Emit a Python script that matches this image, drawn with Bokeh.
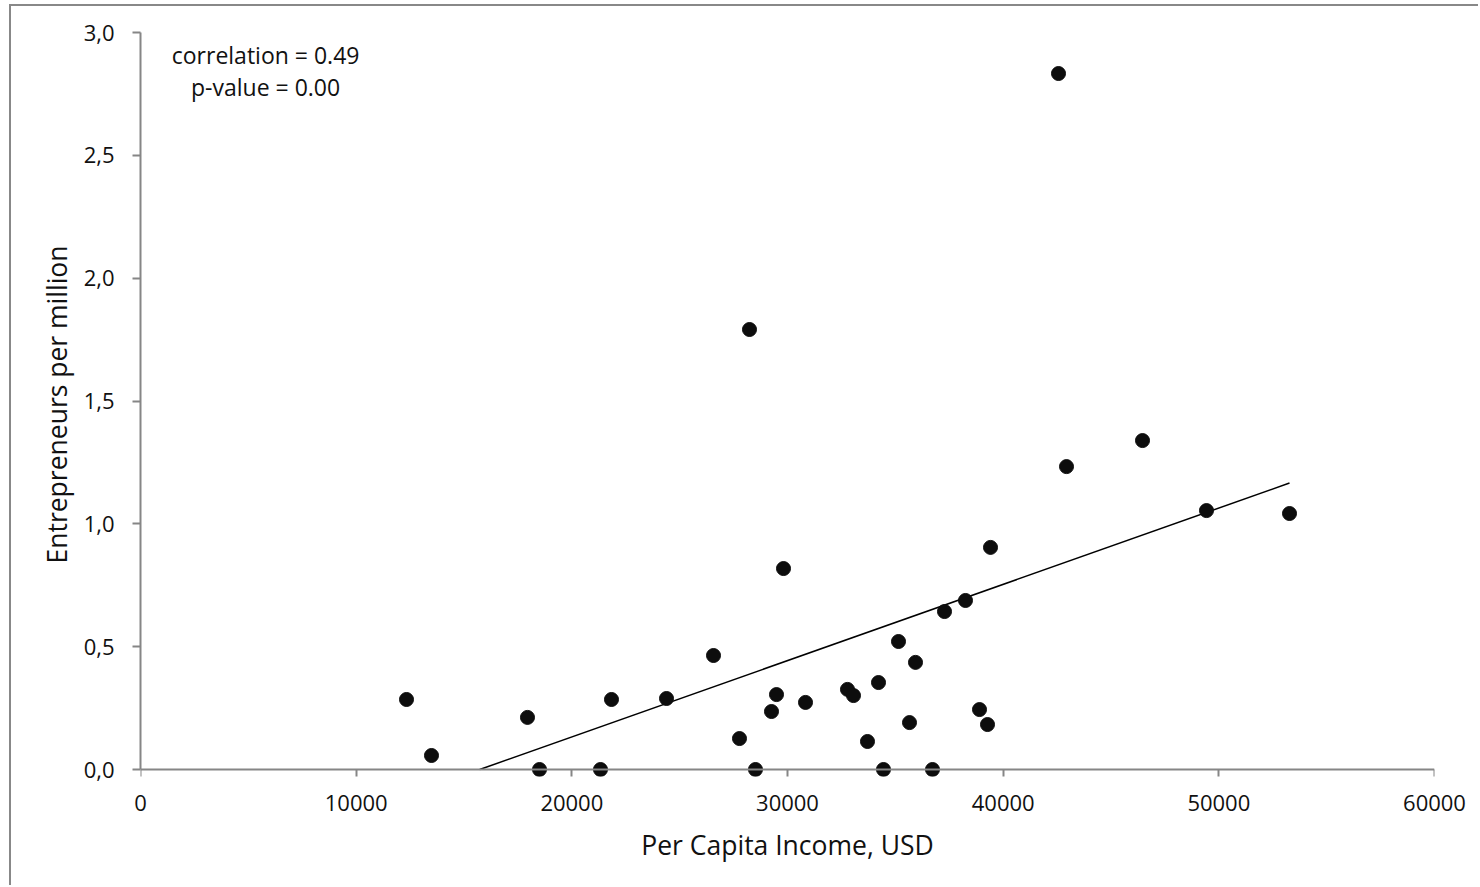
import numpy as np
from bokeh.plotting import figure
from bokeh.models import FixedTicker, LinearAxis, ColumnDataSource
from bokeh.core.properties import value
from bokeh.embed import file_html
from bokeh.resources import INLINE

# Data
income = [12334, 13493, 17944, 18501, 21329, 21839, 24390, 26569, 27774, 28238,
          28516, 29258, 29490, 29815, 30835, 32782, 33060, 33709, 34220, 34451,
          35147, 35657, 35935, 36723, 37280, 38253, 38903, 39274, 39413, 42566,
          42937, 46461, 49428, 53277]
entrepreneurs = [0.285, 0.057, 0.212, 0.0, 0.0, 0.285, 0.289, 0.464, 0.126, 1.791,
                 0.0, 0.236, 0.305, 0.818, 0.273, 0.326, 0.301, 0.114, 0.354, 0.0,
                 0.521, 0.191, 0.436, 0.0, 0.643, 0.688, 0.244, 0.183, 0.904, 2.833,
                 1.233, 1.339, 1.054, 1.042]
x_ticks = [0, 10000, 20000, 30000, 40000, 50000, 60000]
x_tick_labels = ["0", "10000", "20000", "30000", "40000", "50000", "60000"]
y_ticks = [0.0, 0.5, 1.0, 1.5, 2.0, 2.5, 3.0]
y_tick_labels = ["0,0", "0,5", "1,0", "1,5", "2,0", "2,5", "3,0"]
stats_text = ["correlation = 0.49", "p-value = 0.00"]

FONT = "Open Sans"
GRAY = "#868686"
TXT = "#111111"
OX, OY = 11, 6          # content origin on the page (after css margin + border)
W, H = 1469, 881

# Linear regression trend line
slope, intercept = np.polyfit(np.array(income, float), np.array(entrepreneurs, float), 1)
x_start = max(min(income), -intercept / slope)
x_end = max(income)
trend_x = [x_start, x_end]
trend_y = [slope * x_start + intercept, slope * x_end + intercept]

p = figure(width=W, height=H, output_backend="svg", toolbar_location=None,
           x_range=(0, 60000), y_range=(-7 / 245.67, 3.0),
           x_axis_location=None,
           min_border_left=140 - OX, min_border_right=W - (1434 - OX),
           min_border_top=32 - OY, min_border_bottom=H - (776 - OY))
p.styles = {"margin-left": "9px", "margin-top": "4px",
            "border-left": "2px solid #888888", "border-top": "2px solid #888888"}
p.outline_line_color = None
p.xgrid.visible = False
p.ygrid.visible = False
p.background_fill_color = "white"
p.border_fill_color = "white"

# x axis drawn at y = 0 (line and ticks)
xa_line = LinearAxis(ticker=FixedTicker(ticks=x_ticks), fixed_location=0,
                     axis_line_color=GRAY, axis_line_width=2,
                     major_tick_line_color=GRAY, major_tick_line_width=2,
                     major_tick_in=0, major_tick_out=9, minor_tick_line_color=None,
                     major_label_text_alpha=0, major_label_text_font_size="1px")
p.add_layout(xa_line, "below")

# x axis labels and title (below the frame)
xa = LinearAxis(ticker=FixedTicker(ticks=x_ticks),
                axis_line_color=None, major_tick_line_color=None,
                minor_tick_line_color=None, major_tick_in=0, major_tick_out=0,
                major_label_overrides=dict(zip(x_ticks, x_tick_labels)),
                major_label_standoff=18,
                major_label_text_font=FONT, major_label_text_font_size="22px",
                major_label_text_color=TXT,
                axis_label="Per Capita Income, USD", axis_label_standoff=13,
                axis_label_text_font=FONT, axis_label_text_font_size="26.5px",
                axis_label_text_font_style="normal", axis_label_text_color=TXT)
p.add_layout(xa, "below")

ya = p.yaxis[0]
ya.ticker = FixedTicker(ticks=y_ticks)
ya.major_label_overrides = dict(zip(y_ticks, y_tick_labels))
ya.bounds = (0, 3)
ya.axis_line_color = GRAY
ya.axis_line_width = 2
ya.major_tick_line_color = GRAY
ya.major_tick_line_width = 2
ya.minor_tick_line_color = None
ya.major_tick_in = 0
ya.major_tick_out = 8
ya.major_label_standoff = 18
ya.major_label_text_font = FONT
ya.major_label_text_font_size = "22px"
ya.major_label_text_color = TXT
ya.axis_label = "Entrepreneurs per million"
ya.axis_label_standoff = 6
ya.axis_label_text_font = FONT
ya.axis_label_text_font_size = "26.5px"
ya.axis_label_text_font_style = "normal"
ya.axis_label_text_color = TXT

# trend line and points
p.line(trend_x, trend_y, line_color="black", line_width=1.5)
src = ColumnDataSource(dict(x=income, y=entrepreneurs))
p.scatter("x", "y", source=src, size=14, fill_color="#0d0d0d", line_color="#0d0d0d")

# statistics text
p.text(x=[5800, 5800], y=[2.910, 2.780], text=stats_text,
       text_font=value(FONT), text_font_size="23px", text_color=TXT,
       text_align="center", text_baseline="middle")

open("out.html", "w").write(file_html(p, INLINE))
